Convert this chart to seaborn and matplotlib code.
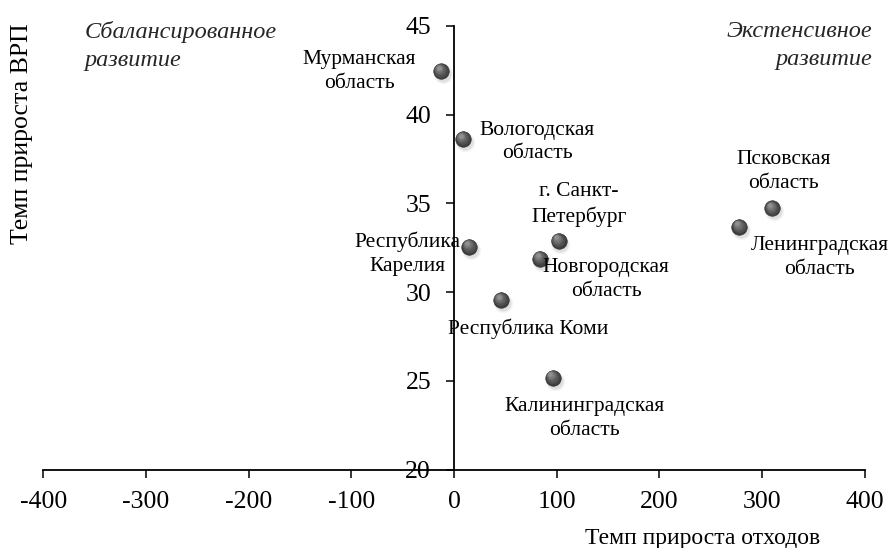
import numpy as np
import pandas as pd
import matplotlib
matplotlib.use('Agg')
import matplotlib.pyplot as plt
from matplotlib.transforms import offset_copy
import seaborn as sns

# ---- data ----
regions = ['Мурманская\nобласть', 'Вологодская\nобласть', 'г. Санкт-\nПетербург',
           'Республика\nКарелия', 'Новгородская\nобласть', 'Республика Коми',
           'Калининградская\nобласть', 'Псковская\nобласть', 'Ленинградская\nобласть']
waste_growth = [-12.5, 9.0, 102.0, 15.0, 84.0, 46.0, 96.5, 310.0, 278.0]
grp_growth = [42.46, 38.63, 32.9, 32.57, 31.9, 29.56, 25.19, 34.73, 33.69]

x_ticks = [-400, -300, -200, -100, 0, 100, 200, 300, 400]
y_ticks = [20, 25, 30, 35, 40, 45]

# label offsets in pixels (dx right, dy down)
label_offsets = [(-82, 0), (74, 3), (20, -36), (-62, 7), (66, 21),
                 (27, 29), (31, 41), (11, -37), (80, 31)]

df = pd.DataFrame({'region': regions, 'x': waste_growth, 'y': grp_growth})

sns.set_theme(style='white')
plt.rcParams['font.family'] = ['Liberation Serif', 'DejaVu Serif']

fig = plt.figure(figsize=(8.88, 5.48), dpi=100)
ax = fig.add_axes([0.0488, 0.1428, 0.925, 0.8098])

# shadow
shadow_tr = offset_copy(ax.transData, fig=fig, x=1.5, y=-3, units='dots')
for s, a in [(200, 0.06), (160, 0.08), (125, 0.12)]:
    ax.scatter(df['x'], df['y'], s=s, color='#808080', alpha=a, lw=0,
               transform=shadow_tr, zorder=2)

# main spheres
sns.scatterplot(data=df, x='x', y='y', ax=ax, s=125, color='#3d3d3d',
                edgecolor='#2e2e2e', linewidth=0.4, zorder=3, legend=False)

# highlight layers for a 3D look
shades = ['#474747', '#525252', '#5e5e5e', '#6c6c6c', '#7c7c7c', '#909090']
sizes = [100, 78, 58, 40, 24, 11]
for i, (c, s) in enumerate(zip(shades, sizes)):
    tr = offset_copy(ax.transData, fig=fig, x=-0.45 * (i + 1), y=0.55 * (i + 1), units='dots')
    ax.scatter(df['x'], df['y'], s=s, color=c, lw=0, transform=tr, zorder=4 + i)

for lbl, xv, yv, (dx, dy) in zip(regions, waste_growth, grp_growth, label_offsets):
    ax.annotate(lbl, (xv, yv), xytext=(dx, -dy), textcoords='offset pixels',
                ha='center', va='center', multialignment='center',
                fontsize=15.5, color='black', linespacing=1.35, zorder=10)

ax.set_xlim(-400, 400)
ax.set_ylim(20, 45)
ax.set_xticks(x_ticks)
ax.set_yticks(y_ticks)
ax.set_xticklabels([str(v) for v in x_ticks])
ax.set_yticklabels([str(v) for v in y_ticks])

ax.spines['left'].set_position(('data', 0))
ax.spines['top'].set_visible(False)
ax.spines['right'].set_visible(False)
for sp in ['left', 'bottom']:
    ax.spines[sp].set_color('black')
    ax.spines[sp].set_linewidth(1.3)

ax.tick_params(axis='both', which='major', direction='out', length=5.5, width=1.1,
               color='black', labelsize=18.5, labelcolor='black',
               bottom=True, left=True)
ax.tick_params(axis='x', pad=10)
ax.tick_params(axis='y', pad=11)
ax.grid(False)

ax.set_xlabel('Темп прироста отходов', fontsize=17, color='black')
ax.xaxis.set_label_coords(0.802, -0.132)
ax.set_ylabel('Темп прироста ВРП', fontsize=18.5, color='black')
ax.yaxis.set_label_coords(-0.012, 0.758)

ax.text(0.05, 1.012, 'Сбалансированное\nразвитие', transform=ax.transAxes,
        ha='left', va='top', fontsize=17.5, style='italic', linespacing=1.45)
ax.text(1.009, 1.012, 'Экстенсивное\nразвитие', transform=ax.transAxes,
        ha='right', va='top', fontsize=17.5, style='italic', linespacing=1.45,
        multialignment='right')

fig.savefig('out.png', dpi=100)
